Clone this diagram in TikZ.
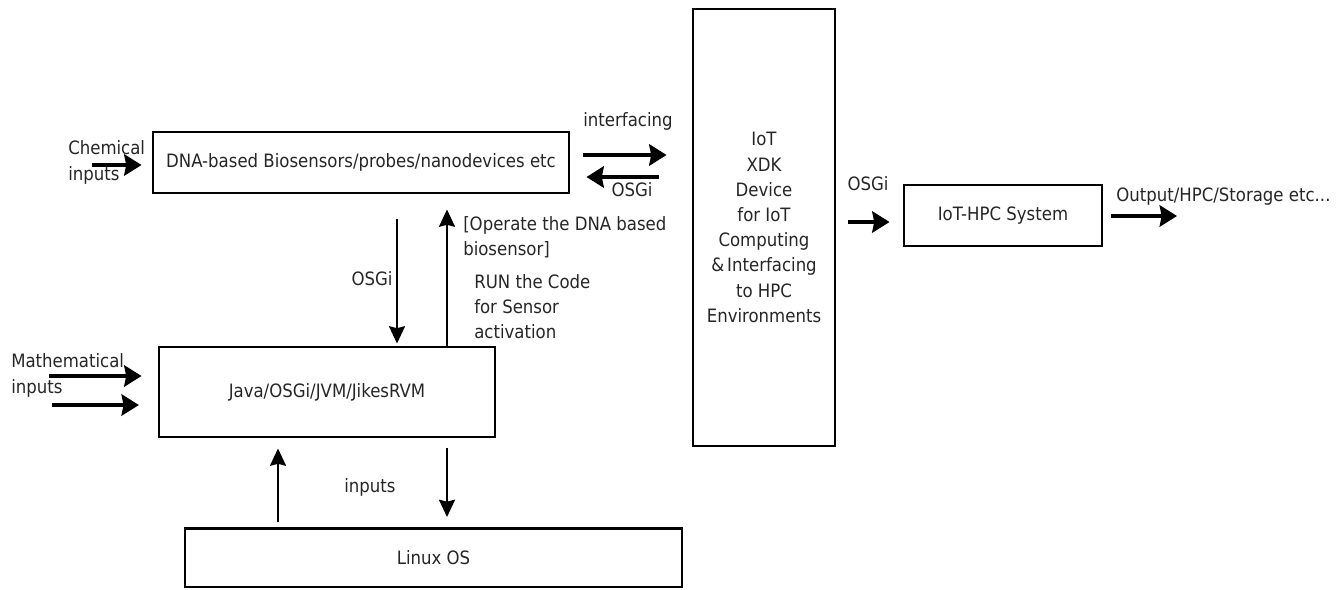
\documentclass[tikz,border=0pt]{standalone}
\usepackage{fontspec}
\setmainfont{DejaVu Sans Condensed}
\usetikzlibrary{arrows.meta}
\begin{document}
\begin{tikzpicture}[x=0.75pt,y=-0.75pt,
  font=\fontsize{13.8}{18.9}\selectfont,
  box/.style={draw, line width=2.2pt, inner sep=0pt, align=center, text=black!85},
  lbl/.style={inner sep=0pt, text=black!85},
  harr/.style={line width=2.6pt, -{Stealth[length=13pt,width=16pt,inset=1.5pt]}},
  varr/.style={line width=1.6pt, -{Stealth[length=13pt,width=12pt,inset=1.5pt]}}]
\useasboundingbox (0,0) rectangle (1341,589);
% boxes
\node[box, minimum width=416*0.75pt, minimum height=61*0.75pt] (dna) at (361,162.5) {DNA-based Biosensors/probes/nanodevices etc};
\node[box, minimum width=142*0.75pt, minimum height=437*0.75pt] (iot) at (764,227.5) {IoT\\XDK\\Device\\for IoT\\Computing\\\&\,Interfacing\\to HPC\\Environments};
\node[box, minimum width=198*0.75pt, minimum height=61*0.75pt] (hpc) at (1003,215.5) {IoT-HPC System};
\node[box, minimum width=336*0.75pt, minimum height=90*0.75pt] (java) at (327,392) {Java/OSGi/JVM/JikesRVM};
\node[box, minimum width=497*0.75pt, minimum height=58.5*0.75pt] (linux) at (433.5,557.75) {Linux OS};
% helper coordinates
\coordinate (chemin) at (92,165);
\coordinate (math1) at (49,376);
\coordinate (math2) at (52,405);
\coordinate (yif) at (0,155);
\coordinate (yos) at (0,177);
\coordinate (xdn) at (397,0);
\coordinate (xup) at (447,0);
\coordinate (xlu) at (278,0);
\coordinate (yhp) at (0,222);
\coordinate (outend) at (1177,216);
% connectors
\draw[harr, shorten >=7.5pt] (chemin) -- (chemin -| dna.west);
\draw[harr, shorten >=12pt] (math1) -- (math1 -| java.west);
\draw[harr, shorten >=14pt] (math2) -- (math2 -| java.west);
\draw[harr, shorten <=9.75pt, shorten >=18.75pt] (dna.east |- yif) -- (iot.west |- yif);
\draw[harr, shorten <=24.75pt, shorten >=12pt] (iot.west |- yos) -- (dna.east |- yos);
\draw[varr, shorten <=18.75pt, shorten >=1.5pt] (dna.south -| xdn) -- (java.north -| xdn);
\draw[varr, shorten >=11.25pt] (java.north -| xup) -- (dna.south -| xup);
\draw[varr, shorten <=3.75pt, shorten >=7.5pt] (linux.north -| xlu) -- (java.south -| xlu);
\draw[varr, shorten <=7.5pt, shorten >=7.5pt] (java.south -| xup) -- (linux.north -| xup);
\draw[harr, shorten <=9pt, shorten >=9.75pt] (iot.east |- yhp) -- (hpc.west |- yhp);
\draw[harr, shorten <=6pt] (hpc.east |- outend) -- (outend);
% labels
\node[lbl, anchor=west, align=left] (lchem) at (68,162.5) {Chemical\\inputs};
\node[lbl, anchor=west, align=left] (lmath) at (11,375.5) {Mathematical\\inputs};
\node[lbl] (lif) at (628,121) {interfacing};
\node[lbl] (los1) at (632,190) {OSGi};
\node[lbl] (los2) at (372,279) {OSGi};
\node[lbl, anchor=west, align=left] (lop) at (463,237) {[Operate the DNA based\\biosensor]};
\node[lbl, anchor=west, align=left] (lrun) at (474,306.5) {RUN the Code\\for Sensor\\activation};
\node[lbl] (lin) at (370,487) {inputs};
\node[lbl] (los3) at (868,184) {OSGi};
\node[lbl, anchor=west] (lout) at (1116,197) {Output/HPC/Storage etc...};
\end{tikzpicture}
\end{document}
